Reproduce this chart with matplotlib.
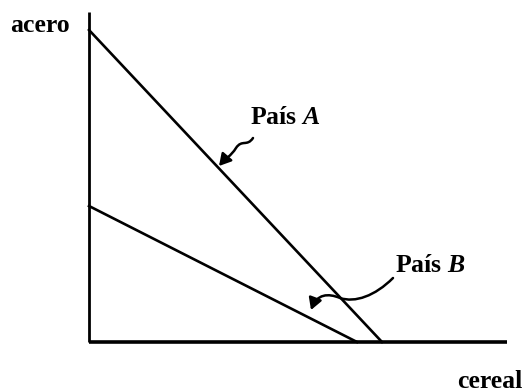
import matplotlib
matplotlib.use('Agg')
import matplotlib.pyplot as plt
from matplotlib.path import Path
from matplotlib.patches import FancyArrowPatch

plt.rcParams['mathtext.fontset'] = 'custom'
plt.rcParams['mathtext.bf'] = 'Liberation Serif:bold:italic'

# frontera de posibilidades (unidades = px del original desde el origen)
paises = ['A', 'B']
max_acero = [312, 136]
max_cereal = [293, 268]

W, H = 528, 391
X0, Y0 = 89, 342   # origen en px

fig = plt.figure(figsize=(W / 100, H / 100), dpi=100)
ax = fig.add_axes([0, 0, 1, 1])
ax.set_xlim(-X0, W - X0)
ax.set_ylim(Y0 - H, Y0)
ax.axis('off')

def p(x, y):
    # px de la imagen -> datos
    return (x - X0, Y0 - y)

# ejes
ax.plot([0, 0], [0, 330], color='black', lw=2.0, solid_capstyle='butt')
ax.plot([0, 418], [0, 0], color='black', lw=2.6, solid_capstyle='butt')

for ac, ce in zip(max_acero, max_cereal):
    ax.plot([0, ce], [ac, 0], color='black', lw=1.9)

fnt = dict(family='Liberation Serif', weight='bold', size=18.5, color='black')
ax.text(*p(10, 25), 'acero', ha='left', va='center', **fnt)
ax.text(*p(522, 381), 'cereal', ha='right', va='center', **fnt)
for nombre, (x, y) in zip(paises, [(250, 117), (395, 266)]):
    ax.text(*p(x, y), 'País $\\mathbf{%s}$' % nombre, ha='left', va='center', **fnt)

# flecha ondulada País A
va = [p(253, 138), p(247, 147), p(242, 139), p(236, 148), p(231, 156), p(225, 159), p(219, 166)]
ca = [Path.MOVETO, Path.CURVE4, Path.CURVE4, Path.CURVE4, Path.CURVE4, Path.CURVE4, Path.CURVE4]
ax.add_patch(FancyArrowPatch(path=Path(va, ca), arrowstyle='-|>,head_length=7,head_width=4',
                             color='black', lw=1.8))

# flecha curva País B
vb = [p(393, 278), p(375, 296), p(355, 303), p(340, 298),
      p(328, 293), p(317, 294), p(311, 310)]
cb = [Path.MOVETO, Path.CURVE4, Path.CURVE4, Path.CURVE4, Path.CURVE4, Path.CURVE4, Path.CURVE4]
ax.add_patch(FancyArrowPatch(path=Path(vb, cb), arrowstyle='-|>,head_length=7,head_width=4',
                             color='black', lw=1.8))

fig.savefig('out.png', dpi=100, facecolor='white')
